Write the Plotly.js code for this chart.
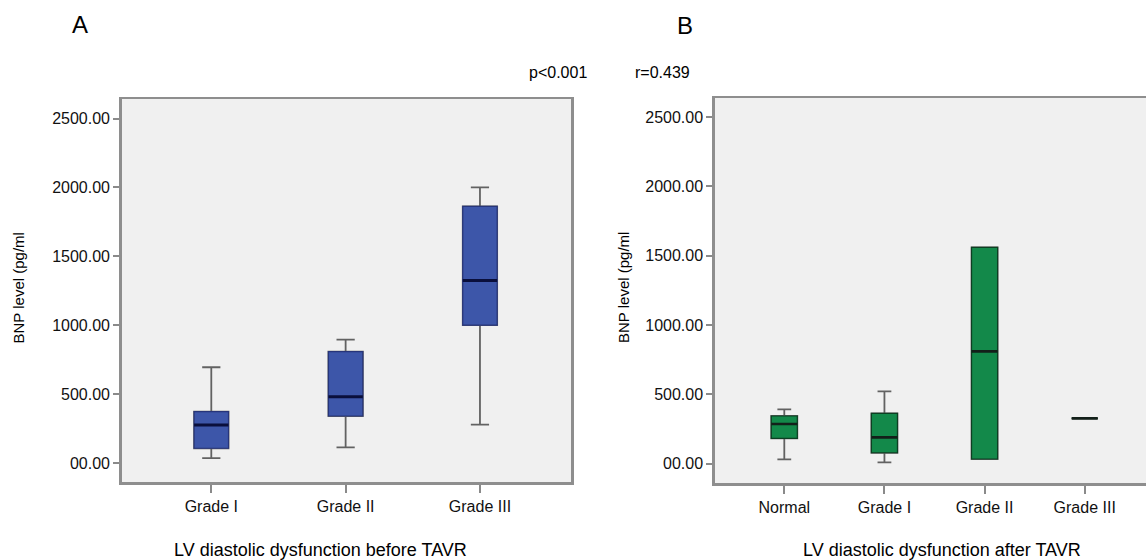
<!DOCTYPE html>
<html>
<head>
<meta charset="utf-8">
<script src="https://cdn.plot.ly/plotly-3.0.1.min.js"></script>
<style>html,body{margin:0;padding:0;background:#fff;}#chart{width:1146px;height:560px;}</style>
</head>
<body>
<div id="chart"></div>
<script>
// Panel A: before TAVR
var catA = ['Grade I', 'Grade II', 'Grade III'];
var lowerA = [35, 114, 278];
var q1A = [107, 341, 1000];
var medianA = [276, 480, 1325];
var q3A = [373, 809, 1863];
var upperA = [695, 895, 2000];

// Panel B: after TAVR
var catB = ['Normal', 'Grade I', 'Grade II', 'Grade III'];
var lowerB = [32, 10, 34, 327];
var q1B = [183, 79, 34, 327];
var medianB = [286, 190, 810, 327];
var q3B = [344, 363, 1560, 327];
var upperB = [392, 522, 1560, 327];

// Y tick labels
var yTickVals = [0, 500, 1000, 1500, 2000, 2500];
var yTickText = ['00.00', '500.00', '1000.00', '1500.00', '2000.00', '2500.00'];

var FONT = 'Liberation Sans, Arial, Helvetica, sans-serif';
var W = 1146, H = 560;
function px(x) { return x / W; }
function py(y) { return 1 - y / H; }

function boxSet(xa, ya, cats, lo, q1, med, q3, hi, fill, edge, medColor, medWidth, bw) {
  var common = {type: 'box', x: cats, xaxis: xa, yaxis: ya, boxpoints: false,
                hoverinfo: 'skip', showlegend: false, width: bw};
  var t1 = Object.assign({}, common, {q1: q1, median: med, q3: q3, lowerfence: lo, upperfence: hi,
           fillcolor: fill, line: {color: '#626262', width: 1.8}, whiskerwidth: 0.53});
  var t2 = Object.assign({}, common, {q1: q1, median: med, q3: q3, lowerfence: q1, upperfence: q3,
           fillcolor: fill, line: {color: edge, width: 1.2}, whiskerwidth: 0});
  var t3 = Object.assign({}, common, {q1: med, median: med, q3: med, lowerfence: med, upperfence: med,
           fillcolor: 'rgba(0,0,0,0)', line: {color: medColor, width: medWidth}, whiskerwidth: 0});
  return [t1, t2, t3];
}

var data = [].concat(
  boxSet('x', 'y', catA, lowerA, q1A, medianA, q3A, upperA, '#3d56a9', '#27357a', '#0a0f3c', 3, 0.256),
  boxSet('x2', 'y2', catB, lowerB, q1B, medianB, q3B, upperB, '#13894a', '#0c3f22', '#13201a', 2.6, 0.26)
);

var axisCommon = {
  showgrid: false, zeroline: false, showline: true, linecolor: '#8e8e8e', linewidth: 2.5,
  ticks: 'outside', tickcolor: '#8a8a8a', tickwidth: 2,
  tickfont: {family: FONT, size: 16, color: '#111'}, fixedrange: true
};

var layout = {
  width: W, height: H,
  margin: {l: 0, r: 0, t: 0, b: 0},
  paper_bgcolor: '#ffffff',
  plot_bgcolor: '#f0f0f0',
  boxmode: 'overlay',
  font: {family: FONT, size: 16, color: '#111'},
  xaxis: Object.assign({}, axisCommon, {domain: [px(121.7), px(571.3)], anchor: 'y', type: 'category',
          range: [-0.667, 2.68], ticklen: 8, mirror: true}),
  yaxis: Object.assign({}, axisCommon, {domain: [py(482), py(99)], anchor: 'x', range: [-138, 2642],
          tickvals: yTickVals, ticktext: yTickText, ticklen: 6, mirror: true}),
  xaxis2: Object.assign({}, axisCommon, {domain: [px(714.8), 1], anchor: 'y2', type: 'category',
          range: [-0.694, 3.612], ticklen: 8, mirror: true}),
  yaxis2: Object.assign({}, axisCommon, {domain: [py(483), py(98)], anchor: 'x2', range: [-139, 2637],
          tickvals: yTickVals, ticktext: yTickText, ticklen: 6, mirror: false}),
  annotations: [
    {text: 'A', x: px(80), y: py(25), xref: 'paper', yref: 'paper', showarrow: false,
     xanchor: 'center', yanchor: 'middle', font: {size: 24, family: FONT, color: '#000'}},
    {text: 'B', x: px(685), y: py(25.5), xref: 'paper', yref: 'paper', showarrow: false,
     xanchor: 'center', yanchor: 'middle', font: {size: 24, family: FONT, color: '#000'}},
    {text: 'p&lt;0.001', x: px(527), y: py(73), xref: 'paper', yref: 'paper', showarrow: false,
     xanchor: 'left', yanchor: 'middle', font: {size: 16, family: FONT, color: '#000'}},
    {text: 'r=0.439', x: px(633), y: py(73), xref: 'paper', yref: 'paper', showarrow: false,
     xanchor: 'left', yanchor: 'middle', font: {size: 16, family: FONT, color: '#000'}},
    {text: 'BNP level (pg/ml', x: px(17.5), y: py(288), xref: 'paper', yref: 'paper', showarrow: false,
     textangle: -90, xanchor: 'center', yanchor: 'middle', font: {size: 15, family: FONT, color: '#000'}},
    {text: 'BNP level (pg/ml', x: px(623), y: py(288), xref: 'paper', yref: 'paper', showarrow: false,
     textangle: -90, xanchor: 'center', yanchor: 'middle', font: {size: 15, family: FONT, color: '#000'}},
    {text: 'LV diastolic dysfunction before TAVR', x: px(320.7), y: py(550), xref: 'paper', yref: 'paper',
     showarrow: false, xanchor: 'center', yanchor: 'middle', font: {size: 18, family: FONT, color: '#000'}},
    {text: 'LV diastolic dysfunction after TAVR', x: px(942), y: py(550), xref: 'paper', yref: 'paper',
     showarrow: false, xanchor: 'center', yanchor: 'middle', font: {size: 18, family: FONT, color: '#000'}}
  ]
};

Plotly.newPlot('chart', data, layout, {staticPlot: true, displayModeBar: false});
</script>
</body>
</html>
